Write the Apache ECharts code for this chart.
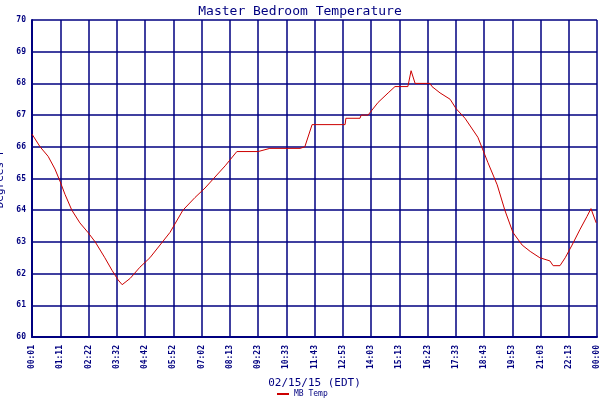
<!DOCTYPE html>
<html><head><meta charset="utf-8">
<script src="https://cdn.jsdelivr.net/npm/echarts@6/dist/echarts.min.js"></script>
<style>html,body{margin:0;background:#fff}#c{width:600px;height:400px}</style>
</head><body><div id="c"></div>
<script>
var tickLabels=["00:01","01:11","02:22","03:32","04:42","05:52","07:02","08:13","09:23","10:33","11:43","12:53","14:03","15:13","16:23","17:33","18:43","19:53","21:03","22:13","00:00"];
var minutes=[0,20,40,57,70,82,99,119,139,157,181,199,214,224,244,268,293,318,343,375,405,430,480,509,562,591,666,678,696,778,780,815,818,835,860,885,902,934,942,952,989,994,1014,1039,1054,1076,1108,1133,1156,1175,1195,1218,1238,1262,1287,1295,1312,1325,1342,1362,1379,1389,1402];
var temps=[66.4,66.0,65.7,65.3,64.9,64.5,64.0,63.6,63.3,63.0,62.5,62.1,61.8,61.65,61.85,62.2,62.5,62.9,63.3,64.0,64.4,64.7,65.4,65.85,65.85,65.95,65.95,66.0,66.7,66.7,66.9,66.9,67.0,67.0,67.4,67.7,67.9,67.9,68.4,68.0,68.0,67.9,67.7,67.5,67.2,66.9,66.3,65.5,64.8,64.0,63.3,62.9,62.7,62.5,62.4,62.25,62.25,62.5,62.9,63.4,63.8,64.05,63.6];
var navy='#000080',font='DejaVu Sans Mono';
var chart=echarts.init(document.getElementById('c'));
chart.setOption({
 animation:false,backgroundColor:'#fff',
 title:{text:'Master Bedroom Temperature',left:'center',top:0,textStyle:{color:navy,fontFamily:font,fontSize:13,fontWeight:'normal'}},
 legend:{bottom:-3,left:272,itemWidth:12,itemHeight:2,icon:'rect',textStyle:{color:navy,fontFamily:font,fontSize:8},data:['MB Temp']},
 grid:{left:32,right:3,top:20,bottom:63,containLabel:false,outerBoundsMode:'none'},
 xAxis:{type:'value',min:0,max:1404,interval:70.2,name:'02/15/15 (EDT)',nameLocation:'middle',nameGap:41,
  nameTextStyle:{color:navy,fontFamily:font,fontSize:11},
  axisLine:{lineStyle:{color:navy,width:2}},axisTick:{show:false},
  splitLine:{lineStyle:{color:navy,width:1.5}},
  axisLabel:{rotate:90,color:navy,fontFamily:font,fontSize:8,fontWeight:'bold',showMaxLabel:true,
   formatter:function(v){return tickLabels[Math.round(v/70.2)]||'';}}},
 yAxis:{type:'value',min:60,max:70,interval:1,name:'Degrees F',nameLocation:'middle',nameGap:22,
  nameTextStyle:{color:navy,fontFamily:font,fontSize:11},
  axisLine:{show:true,lineStyle:{color:navy,width:2}},axisTick:{show:false},
  splitLine:{lineStyle:{color:navy,width:1.5}},
  axisLabel:{color:navy,fontFamily:font,fontSize:8,fontWeight:'bold',margin:6}},
 series:[{name:'MB Temp',type:'line',showSymbol:false,lineStyle:{color:'#cc0000',width:1},itemStyle:{color:'#cc0000'},
  data:minutes.map(function(m,i){return [m,temps[i]];})}]
});
</script></body></html>
